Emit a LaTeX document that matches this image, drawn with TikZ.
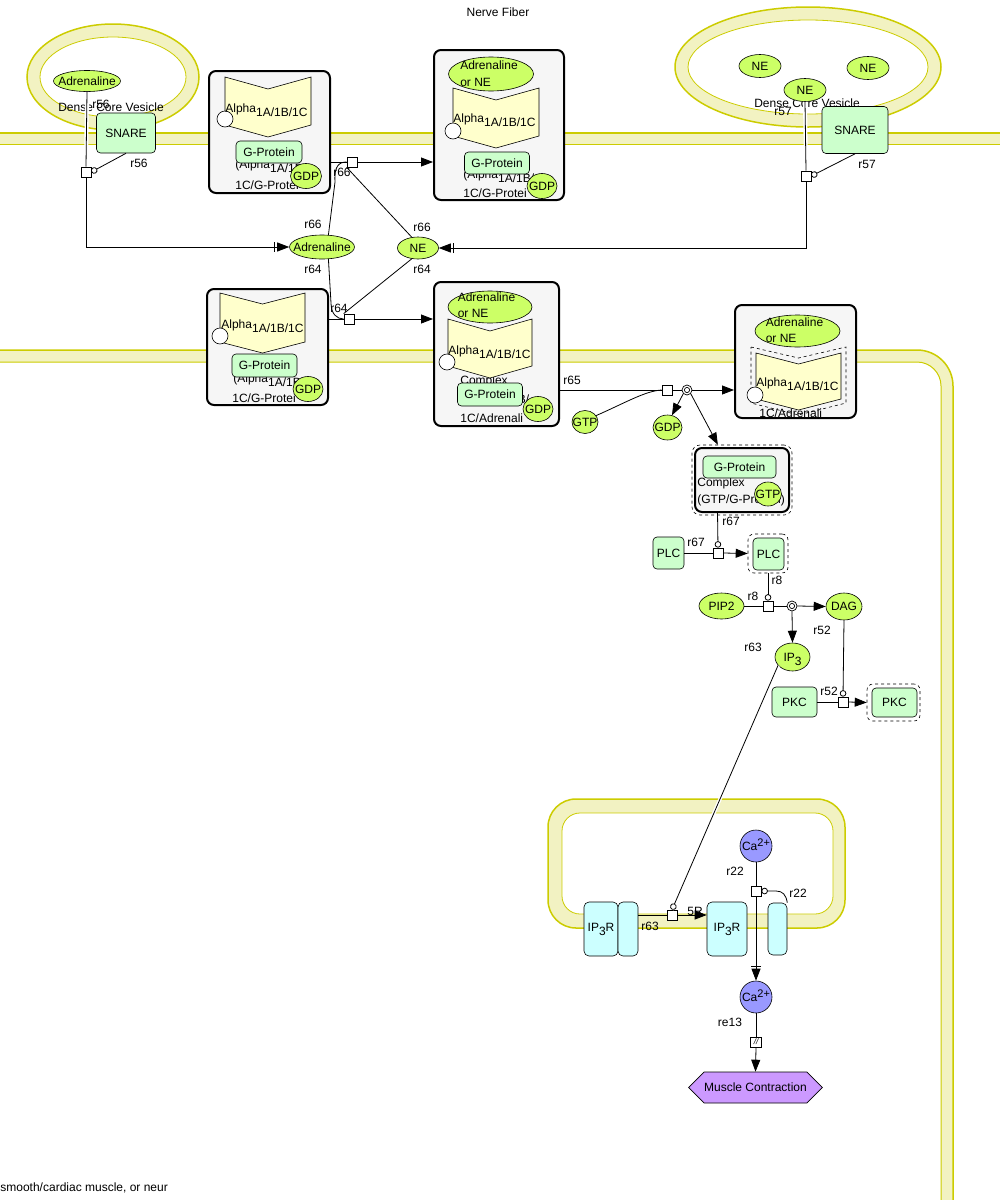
\documentclass[tikz,border=0pt]{standalone}
\usepackage{fontspec}
\setmainfont{Liberation Sans}
\usetikzlibrary{arrows.meta,shapes.geometric,shapes.misc,shapes.symbols,calc}
\definecolor{smol}{HTML}{CCFF66}
\definecolor{prot}{HTML}{CCFFCC}
\definecolor{recp}{HTML}{FFFFCC}
\definecolor{ionc}{HTML}{9999FF}
\definecolor{phen}{HTML}{CC99FF}
\definecolor{chan}{HTML}{CCFFFF}
\definecolor{cplxf}{HTML}{F6F6F6}
\definecolor{membf}{HTML}{F2F2C2}
\definecolor{membl}{HTML}{CCCC00}
\newcommand\zz[1]{\makebox[0pt]{\smash{\raisebox{-4.3pt}{#1}}}}
\newcommand\recep[5]{\filldraw[fill=recp,draw=black,line width=.6pt] (#1,#2) -- ({(#1+#3)/2},{#2+#5}) -- (#3,#2) -- (#3,{#4-#5}) -- ({(#1+#3)/2},#4) -- (#1,{#4-#5}) -- cycle;}
\newcommand\alphatxt{Alpha\raisebox{-4pt}{1A/1B/1C}}
\begin{document}
\begin{tikzpicture}[x=1pt,y=-1pt,
  every node/.style={font=\fontsize{12}{14}\selectfont},
  line width=0.8pt,
  sm/.style 2 args={ellipse,draw=black,fill=smol,line width=.6pt,inner sep=0pt,minimum width=#1,minimum height=#2},
  pr/.style 2 args={rectangle,rounded corners=4pt,draw=black,fill=prot,line width=.6pt,inner sep=0pt,minimum width=#1,minimum height=#2},
  prdash/.style 2 args={rectangle,rounded corners=6pt,draw=black,fill=white,dashed,line width=.6pt,inner sep=0pt,minimum width=#1,minimum height=#2},
  chn/.style 2 args={rectangle,rounded corners=5pt,draw=black,fill=chan,line width=.6pt,inner sep=0pt,minimum width=#1,minimum height=#2},
  ion/.style={circle,draw=black,fill=ionc,line width=.6pt,inner sep=0pt,minimum size=32},
  cx/.style 2 args={rectangle,rounded corners=7pt,draw=black,fill=cplxf,line width=2pt,inner sep=0pt,minimum width=#1,minimum height=#2},
  cxdash/.style 2 args={rectangle,rounded corners=8pt,draw=black,fill=white,dashed,line width=.6pt,inner sep=0pt,minimum width=#1,minimum height=#2},
  rcirc/.style={circle,draw=black,fill=white,line width=.6pt,inner sep=0pt,minimum size=16},
  rq/.style={rectangle,draw=black,fill=white,line width=.7pt,inner sep=0pt,minimum size=10},
  pc/.style={circle,draw=black,fill=white,line width=.7pt,inner sep=0pt,minimum size=10,path picture={\draw[line width=.7pt] (path picture bounding box.center) circle (2.6pt);}},
  lbl/.style={inner sep=0pt},
  prod/.style={-{Triangle[length=12pt,width=9pt]}},
  trans/.style={-{Bar[width=10pt,sep=2pt]Triangle[length=12pt,width=9pt]}},
  modif/.style={-{Circle[open,length=6.5pt,width=6.5pt]}},
]
\useasboundingbox (0,0) rectangle (1000,1200);

% ---------- compartments ----------
% left dense core vesicle
\fill[membf] (113,77) ellipse[x radius=86,y radius=53];
\fill[white] (113,77) ellipse[x radius=73,y radius=40];
\draw[membl,line width=1.5pt] (113,77) ellipse[x radius=86,y radius=53];
\draw[membl,line width=.8pt] (113,77) ellipse[x radius=73,y radius=40];
% right dense core vesicle
\fill[membf] (808,67) ellipse[x radius=133,y radius=60];
\fill[white] (808,67) ellipse[x radius=120,y radius=47];
\draw[membl,line width=1.5pt] (808,67) ellipse[x radius=133,y radius=60];
\draw[membl,line width=.8pt] (808,67) ellipse[x radius=120,y radius=47];
% nerve fiber membrane
\fill[membf] (0,133) rectangle (1000,144);
\draw[membl,line width=1.5pt] (0,133) -- (1000,133);
\draw[membl,line width=1pt] (0,144) -- (1000,144);
% muscle cell membrane
\draw[membf,line width=12pt] (0,356) -- (917,356) arc[start angle=-90,end angle=0,radius=30] -- (947,1205);
\draw[membl,line width=1.5pt] (0,350) -- (917,350) arc[start angle=-90,end angle=0,radius=36] -- (953,1205);
\draw[membl,line width=1pt] (0,362) -- (917,362) arc[start angle=-90,end angle=0,radius=24] -- (941,1205);
% ER
\filldraw[fill=membf,draw=membl,line width=1.5pt,rounded corners=28pt] (548,799) rectangle (845,928);
\filldraw[fill=white,draw=membl,line width=.8pt,rounded corners=18pt] (562,813) rectangle (833,914);

% ---------- titles ----------
\node[lbl] (tNF) at (498,12) {Nerve Fiber};
\node[lbl,anchor=west] (tSM) at (0,1188) {smooth/cardiac muscle, or neur};

% ---------- vesicle contents ----------
\node[sm={67}{21}] (adrV) at (87,81) {\zz{Adrenaline}};
\node[lbl] (tDCV1) at (111,107) {Dense Core Vesicle};
\node[lbl] (tr56a) at (101,104) {r56};
\node[pr={59}{40}] (snL) at (126,133) {SNARE};

\node[sm={42}{23}] (ne1) at (760,66) {\zz{NE}};
\node[sm={42}{23}] (ne2) at (868,68) {\zz{NE}};
\node[lbl] (tDCV2) at (807,103) {Dense Core Vesicle};
\node[lbl] (tr57a) at (783,111) {r57};
\node[sm={42}{23}] (ne3) at (805,90) {\zz{NE}};
\node[pr={66}{47}] (snR) at (855,130) {SNARE};

% ---------- complex C1 ----------
\node[cx={121}{122}] (C1) at (269.5,132) {};
\node[lbl,anchor=west] (c1la) at (235,166) {(Alpha\raisebox{-4pt}{1A/1B/}};
\node[lbl,anchor=west] (c1lb) at (235,185) {1C/G-Protei};
\recep{225}{77}{311}{137}{12}
\node[rcirc] (c1c) at (225,119) {};
\node[lbl,anchor=base west] (a1) at (225,112) {\alphatxt};
\node[pr={66}{22}] (g1) at (269,152) {G-Protein};
\node[sm={31}{25}] (gdp1) at (306,176) {\zz{GDP}};

% ---------- complex C2 ----------
\node[cx={130}{150}] (C2) at (499,125) {};
\node[lbl,anchor=west] (c2la) at (463,176) {(Alpha\raisebox{-4pt}{1A/1B/}};
\node[lbl,anchor=west] (c2lb) at (463,193) {1C/G-Protei};
\node[sm={85}{34}] (l2) at (491,74) {};
\node[lbl,align=left,font=\fontsize{12}{17}\selectfont] (l2t) at (489,74) {Adrenaline\\or NE};
\recep{453}{88}{539}{148}{12}
\node[rcirc] (c2c) at (453,131) {};
\node[lbl,anchor=base west] (a2) at (453,122) {\alphatxt};
\node[pr={65}{22}] (g2) at (497,163) {G-Protein};
\node[sm={30}{25}] (gdp2) at (542,186) {\zz{GDP}};

% ---------- complex C3 ----------
\node[cx={121}{116}] (C3) at (267.5,347) {};
\node[lbl,anchor=west] (c3la) at (233,380) {(Alpha\raisebox{-4pt}{1A/1B/}};
\node[lbl,anchor=west] (c3lb) at (232,398) {1C/G-Protei};
\recep{220}{293}{305}{353}{11}
\node[rcirc] (c3c) at (220,336) {};
\node[lbl,anchor=base west] (a3) at (221,328) {\alphatxt};
\node[pr={65}{23}] (g3) at (264.5,365.5) {G-Protein};
\node[sm={30}{25}] (gdp3) at (308,389) {\zz{GDP}};

% ---------- complex C4 ----------
\node[cx={125}{144}] (C4) at (496.5,354) {};
\node[lbl,anchor=west] (c4la) at (460,381) {Complex};
\node[lbl,anchor=west] (c4lb) at (458,397) {(Alpha\raisebox{-4pt}{1A/1B/}};
\node[lbl,anchor=west] (c4lc) at (460,418) {1C/Adrenali};
\node[sm={84}{32}] (l4) at (490,307) {};
\node[lbl,align=left,font=\fontsize{12}{16}\selectfont] (l4t) at (486.5,305) {Adrenaline\\or NE};
\recep{448}{319}{532}{378}{12}
\node[rcirc] (c4c) at (447,362) {};
\node[lbl,anchor=base west] (a4) at (448,354) {\alphatxt};
\node[pr={65}{23}] (g4) at (490,394.5) {G-Protein};
\node[sm={30}{25}] (gdp4) at (538,409) {\zz{GDP}};

% ---------- complex C5 ----------
\node[cx={121}{113}] (C5) at (795.5,361.5) {};
\node[lbl,anchor=west] (c5la) at (759,413) {1C/Adrenali};
\node[sm={85}{32}] (l5) at (797.5,331) {};
\node[lbl,align=left,font=\fontsize{12}{16}\selectfont] (l5t) at (794.5,330) {Adrenaline\\or NE};
\draw[dashed,line width=.6pt] (751,347) -- (798.5,358) -- (846,347) -- (846,403) -- (798.5,415) -- (751,403) -- cycle;
\recep{756}{353}{841}{410}{11}
\node[rcirc] (c5c) at (755,395) {};
\node[lbl,anchor=base west] (a5) at (756,386) {\alphatxt};

% ---------- complex C6 (GTP/G-Protein) ----------
\node[cxdash={100}{70}] (C6o) at (742,480) {};
\node[cx={94}{64}] (C6) at (742,480) {};
\node[lbl,anchor=west] (c6la) at (697,483) {Complex};
\node[lbl,anchor=west] (c6lb) at (697,500) {(GTP/G-Protein)};
\node[pr={73}{22}] (g6) at (739.5,467) {G-Protein};
\node[sm={27}{24}] (gtp6) at (768,494) {\zz{GTP}};

% ---------- free molecules ----------
\node[sm={65}{24}] (adrM) at (322,247) {\zz{Adrenaline}};
\node[sm={41}{22}] (neM) at (418,248) {\zz{NE}};
\node[sm={26}{23}] (gtpF) at (585,422) {\zz{GTP}};
\node[sm={29}{25}] (gdpF) at (667.5,427.5) {\zz{GDP}};
\node[pr={31}{32}] (plc1) at (668.5,553) {PLC};
\node[prdash={40}{39}] (plc2o) at (768,553.5) {};
\node[pr={31}{32}] (plc2) at (768.5,554) {PLC};
\node[sm={45}{26}] (pip2) at (721.5,606) {\zz{PIP2}};
\node[sm={36}{27}] (dag) at (844,606.5) {\zz{DAG}};
\node[sm={35}{28}] (ip3) at (792.5,657) {\zz{IP\raisebox{-4pt}{3}}};
\node[pr={45}{30}] (pkc1) at (794.5,702) {PKC};
\node[prdash={53}{37}] (pkc2o) at (893.5,702.5) {};
\node[pr={45}{29}] (pkc2) at (894.5,702.5) {PKC};
\node[chn={34}{54}] (ipL1) at (601,929) {IP\raisebox{-4pt}{3}R};
\node[chn={20}{54}] (ipL2) at (628,929) {};
\node[chn={40}{54}] (ipR) at (727,929) {IP\raisebox{-4pt}{3}R};
\node[chn={19}{52}] (chR) at (777.5,929) {};
\node[ion] (caT) at (756,846) {\zz{Ca\raisebox{4pt}{\fontsize{11}{12}\selectfont 2+}}};
\node[ion] (caB) at (756,997) {\zz{Ca\raisebox{4pt}{\fontsize{11}{12}\selectfont 2+}}};
\node[signal,signal to=west and east,draw=black,fill=phen,line width=.6pt,inner sep=0pt,minimum width=125,minimum height=31] (mc) at (755.5,1087.5) {Muscle Contraction};

% ---------- reaction points ----------
\node[rq] (q56) at (86,172) {};
\node[rq] (q57) at (806,176) {};
\node[rq] (q66) at (352,162) {};
\node[rq] (q64) at (349,319) {};
\node[rq] (q65) at (667,390) {};
\node[pc] (p65) at (687,390) {};
\node[rq] (q67) at (718,553) {};
\node[rq] (q8) at (768,606) {};
\node[pc] (p8) at (792,606) {};
\node[rq] (q52) at (843,702) {};
\node[rq] (q63) at (672,915) {};
\node[rq] (q22) at (756,891) {};
\node[rq,minimum width=11] (qre) at (756,1042) {\fontsize{8}{8}\selectfont\itshape //};

% ---------- reaction labels ----------
\node[lbl] at (139,163) {r56};
\node[lbl] at (867,164) {r57};
\node[lbl] at (342,172) {r66};
\node[lbl] at (313,224) {r66};
\node[lbl] at (313,269) {r64};
\node[lbl] at (422,227) {r66};
\node[lbl] at (422,269) {r64};
\node[lbl] at (339,308) {r64};
\node[lbl] at (572,380) {r65};
\node[lbl] at (731,521) {r67};
\node[lbl] at (696,542) {r67};
\node[lbl] at (777,580) {r8};
\node[lbl] at (753,596) {r8};
\node[lbl] at (822,630) {r52};
\node[lbl] at (753,647) {r63};
\node[lbl] at (829,691) {r52};
\node[lbl] at (650,926) {r63};
\node[lbl] at (695,911) {5R};
\node[lbl] at (735,871) {r22};
\node[lbl] at (798,893) {r22};
\node[lbl] at (730,1022) {re13};

% ---------- connectors ----------
% r56
\draw[white,line width=4pt] (adrV.south) -- (q56.north);
\draw (adrV.south) -- (q56.north);
\draw[trans] (q56.south) |- (adrM.west);
\draw[modif] (snL.south) -- (q56.east);
% r57
\draw[white,line width=4pt] (ne3.south) -- (q57.north);
\draw (ne3.south) -- (q57.north);
\draw[trans] (q57.south) |- (neM.east);
\draw[modif] (snR.south) -- (q57.east);
% r66
\draw (q66 -| C1.east) -- (q66.west);
\draw[prod] (q66.east) -- (q66 -| C2.west);
\draw (adrM.62) -- (335,182) .. controls (334,166) and (339,162) .. (q66.west);
\draw (neM.120) -- (q66.south west);
% r64
\draw (q64 -| C3.east) -- (q64.west);
\draw[prod] (q64.east) -- (q64 -| C4.west);
\draw (adrM.-62) -- (331,303) .. controls (331,314) and (337,319) .. (q64.west);
\draw (neM.240) -- (q64.north west);
% r65
\draw (q65 -| C4.east) -- (q65.west);
\draw (gtpF.30) .. controls (625,403) and (645,391) .. (q65.west);
\draw (q65.east) -- (p65.west);
\draw[prod] (p65.east) -- (p65 -| C5.west);
\draw[prod] (p65.south west) .. controls (680,400) .. (gdpF.70);
\draw[prod] (p65.south east) -- ($(C6o.north west)!0.26!(C6o.north east)$);
% r67
\draw[modif] ($(C6.south west)!0.245!(C6.south east)$) -- (q67.north);
\draw (plc1.east) -- (q67.west);
\draw[prod] (q67.east) -- (plc2o.west);
% r8
\draw[modif] (plc2o.south) -- (q8.north);
\draw (pip2.east) -- (q8.west);
\draw (q8.east) -- (p8.west);
\draw[prod] (p8.east) -- (dag.west);
\draw[prod] (p8.south) -- (ip3.north);
% r52
\draw[modif] (dag.south) -- (q52.north);
\draw (pkc1.east) -- (q52.west);
\draw[prod] (q52.east) -- (pkc2o.west);
% r63
\draw[white,line width=3.5pt] (ip3.210) -- (q63.north);
\draw[modif] (ip3.210) -- (q63.north);
\draw (q63 -| ipL2.east) -- (q63.west);
\draw[prod] (q63.east) -- (q63 -| ipR.west);
% r22
\draw (caT.south) -- (q22.north);
\draw[trans] (q22.south) -- (caB.north);
\draw[modif] (chR.north east) .. controls (786,895) and (783,891) .. (776,891) -- (q22.east);
% re13
\draw (caB.south) -- (qre.north);
\draw[prod] (qre.south) -- (mc.north);
\end{tikzpicture}
\end{document}
